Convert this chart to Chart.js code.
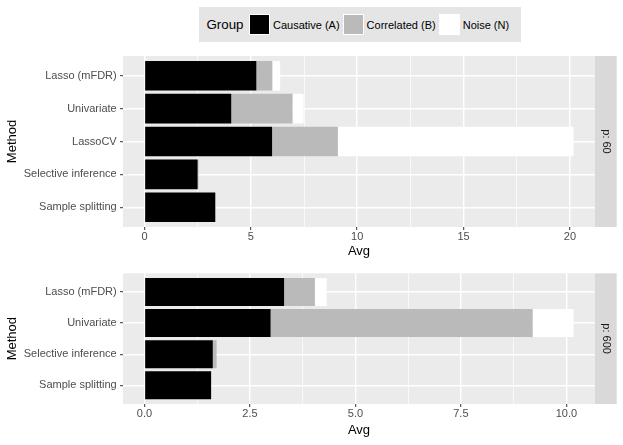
<!DOCTYPE html>
<html>
<head>
<meta charset="utf-8">
<script src="https://cdn.jsdelivr.net/npm/chart.js@4.4.1/dist/chart.umd.min.js"></script>
<style>
  body { margin: 0; background: #fff; font-family: 'Liberation Sans', Arial, sans-serif; }
  #page { position: relative; width: 623px; height: 445px; overflow: hidden; }
  canvas { position: absolute; left: 0; }
  #legend {
    position: absolute; left: 199px; top: 7px; height: 35px;
    background: #E5E5E5; display: flex; align-items: center;
    padding: 0 8px 0 7.5px; color: #000;
  }
  #legend .title { font-size: 13.3px; margin-right: 6px; }
  #legend .key { width: 21px; height: 21px; box-sizing: border-box; border: 1px solid #fff; }
  #legend .lab { font-size: 11px; margin: 0 3.5px 0 2.5px; }
</style>
</head>
<body>
<div id="page">
  <div id="legend"><span class="title">Group</span></div>
  <canvas id="p60" width="623" height="216" style="top:44px"></canvas>
  <canvas id="p600" width="623" height="183" style="top:262px"></canvas>
</div>
<script>
const GROUPS = ['Causative (A)', 'Correlated (B)', 'Noise (N)'];
const GROUP_COLORS = ['#000000', '#BABABA', '#FFFFFF'];

// p: 60
const METHODS_60 = ['Lasso (mFDR)', 'Univariate', 'LassoCV', 'Selective inference', 'Sample splitting'];
const CAUSATIVE_60 = [5.26, 4.08, 6.00, 2.50, 3.33];
const CORRELATED_60 = [0.75, 2.88, 3.09, 0.04, 0];
const NOISE_60 = [0.37, 0.52, 11.08, 0, 0];
const TICKS_60 = [0, 5, 10, 15, 20];
const TICK_LABELS_60 = ['0', '5', '10', '15', '20'];

// p: 600
const METHODS_600 = ['Lasso (mFDR)', 'Univariate', 'Selective inference', 'Sample splitting'];
const CAUSATIVE_600 = [3.31, 2.99, 1.62, 1.58];
const CORRELATED_600 = [0.73, 6.21, 0.09, 0];
const NOISE_600 = [0.28, 0.97, 0, 0];
const TICKS_600 = [0, 2.5, 5, 7.5, 10];
const TICK_LABELS_600 = ['0.0', '2.5', '5.0', '7.5', '10.0'];

Chart.defaults.font.family = "'Liberation Sans', Arial, sans-serif";
Chart.defaults.animation = false;

// legend
const legend = document.getElementById('legend');
GROUPS.forEach((g, i) => {
  const k = document.createElement('span');
  k.className = 'key';
  k.style.background = GROUP_COLORS[i];
  const l = document.createElement('span');
  l.className = 'lab';
  l.textContent = g;
  legend.appendChild(k);
  legend.appendChild(l);
});

const panelPlugin = {
  id: 'panel',
  beforeDraw(chart) {
    const { ctx, chartArea: a } = chart;
    ctx.save();
    ctx.fillStyle = '#EBEBEB';
    ctx.fillRect(a.left, a.top, a.right - a.left, a.bottom - a.top);
    ctx.restore();
  },
  afterDraw(chart, args, opts) {
    const { ctx, chartArea: a } = chart;
    ctx.save();
    ctx.fillStyle = '#D9D9D9';
    ctx.fillRect(a.right, a.top, 21.7, a.bottom - a.top);
    ctx.translate(a.right + 10.9, (a.top + a.bottom) / 2);
    ctx.rotate(Math.PI / 2);
    ctx.fillStyle = '#1A1A1A';
    ctx.font = "11px 'Liberation Sans', Arial, sans-serif";
    ctx.textAlign = 'center';
    ctx.textBaseline = 'middle';
    ctx.fillText(opts.text, 0, 0);
    ctx.restore();
  },
};

function minorBreaks(majors) {
  const out = [];
  for (let i = 0; i < majors.length - 1; i++) out.push((majors[i] + majors[i + 1]) / 2);
  return out;
}

function panelChart(id, methods, causative, correlated, noise, ticks, tickLabels, strip, pad) {
  const totals = causative.map((v, i) => v + correlated[i] + noise[i]);
  const top = Math.max(...totals);
  const isMajor = (v) => ticks.some((t) => Math.abs(t - v) < 1e-9);
  const series = [causative, correlated, noise];
  return new Chart(document.getElementById(id), {
    type: 'bar',
    data: {
      labels: methods,
      datasets: series.map((d, i) => ({
        label: GROUPS[i],
        data: d,
        backgroundColor: GROUP_COLORS[i],
        borderWidth: 0,
        categoryPercentage: 0.9,
        barPercentage: 1.0,
      })),
    },
    plugins: [panelPlugin],
    options: {
      indexAxis: 'y',
      responsive: false,
      devicePixelRatio: 1,
      layout: { padding: { top: pad.top, right: 28, left: 0, bottom: 0 } },
      plugins: { legend: { display: false }, tooltip: { enabled: false }, panel: { text: strip } },
      scales: {
        x: {
          type: 'linear',
          stacked: true,
          min: -0.05 * top,
          max: 1.05 * top,
          afterBuildTicks: (s) => {
            s.ticks = ticks.concat(minorBreaks(ticks)).sort((a, b) => a - b).map((v) => ({ value: v }));
          },
          afterFit: (s) => { s.height = pad.axis; },
          border: { display: false },
          grid: {
            color: '#FFFFFF',
            lineWidth: (c) => (isMajor(c.tick.value) ? 1.4 : 0.7),
            tickColor: (c) => (isMajor(c.tick.value) ? '#333333' : 'rgba(0,0,0,0)'),
            tickLength: 3,
            tickWidth: 1,
          },
          ticks: {
            color: '#4D4D4D',
            font: { size: 11 },
            padding: 0.5,
            maxRotation: 0,
            autoSkip: false,
            callback: (v) => {
              const i = ticks.findIndex((t) => Math.abs(t - v) < 1e-9);
              return i < 0 ? '' : tickLabels[i];
            },
          },
          title: { display: true, text: 'Avg', color: '#000', font: { size: 13 }, padding: { top: 0, bottom: pad.title } },
        },
        y: {
          type: 'category',
          stacked: true,
          offset: false,
          afterFit: (s) => {
            s.width = 123;
            // ggplot discrete expansion: 0.6 of a category at each end
            s._startValue = -0.6;
            s._valueRange = s.getLabels().length - 1 + 1.2;
          },
          border: { display: false },
          grid: { color: '#FFFFFF', lineWidth: 1.4, offset: false, tickColor: '#333333', tickLength: 3, tickWidth: 1 },
          ticks: { color: '#4D4D4D', font: { size: 11 }, padding: 3.3, autoSkip: false },
          title: { display: true, text: 'Method', color: '#000', font: { size: 13 }, padding: { top: 4.7, bottom: 0 } },
        },
      },
    },
  });
}

panelChart('p60', METHODS_60, CAUSATIVE_60, CORRELATED_60, NOISE_60, TICKS_60, TICK_LABELS_60, 'p: 60',
  { top: 12, axis: 33, title: 1.2 });
panelChart('p600', METHODS_600, CAUSATIVE_600, CORRELATED_600, NOISE_600, TICKS_600, TICK_LABELS_600, 'p: 600',
  { top: 11.3, axis: 41, title: 6.5 });
</script>
</body>
</html>
